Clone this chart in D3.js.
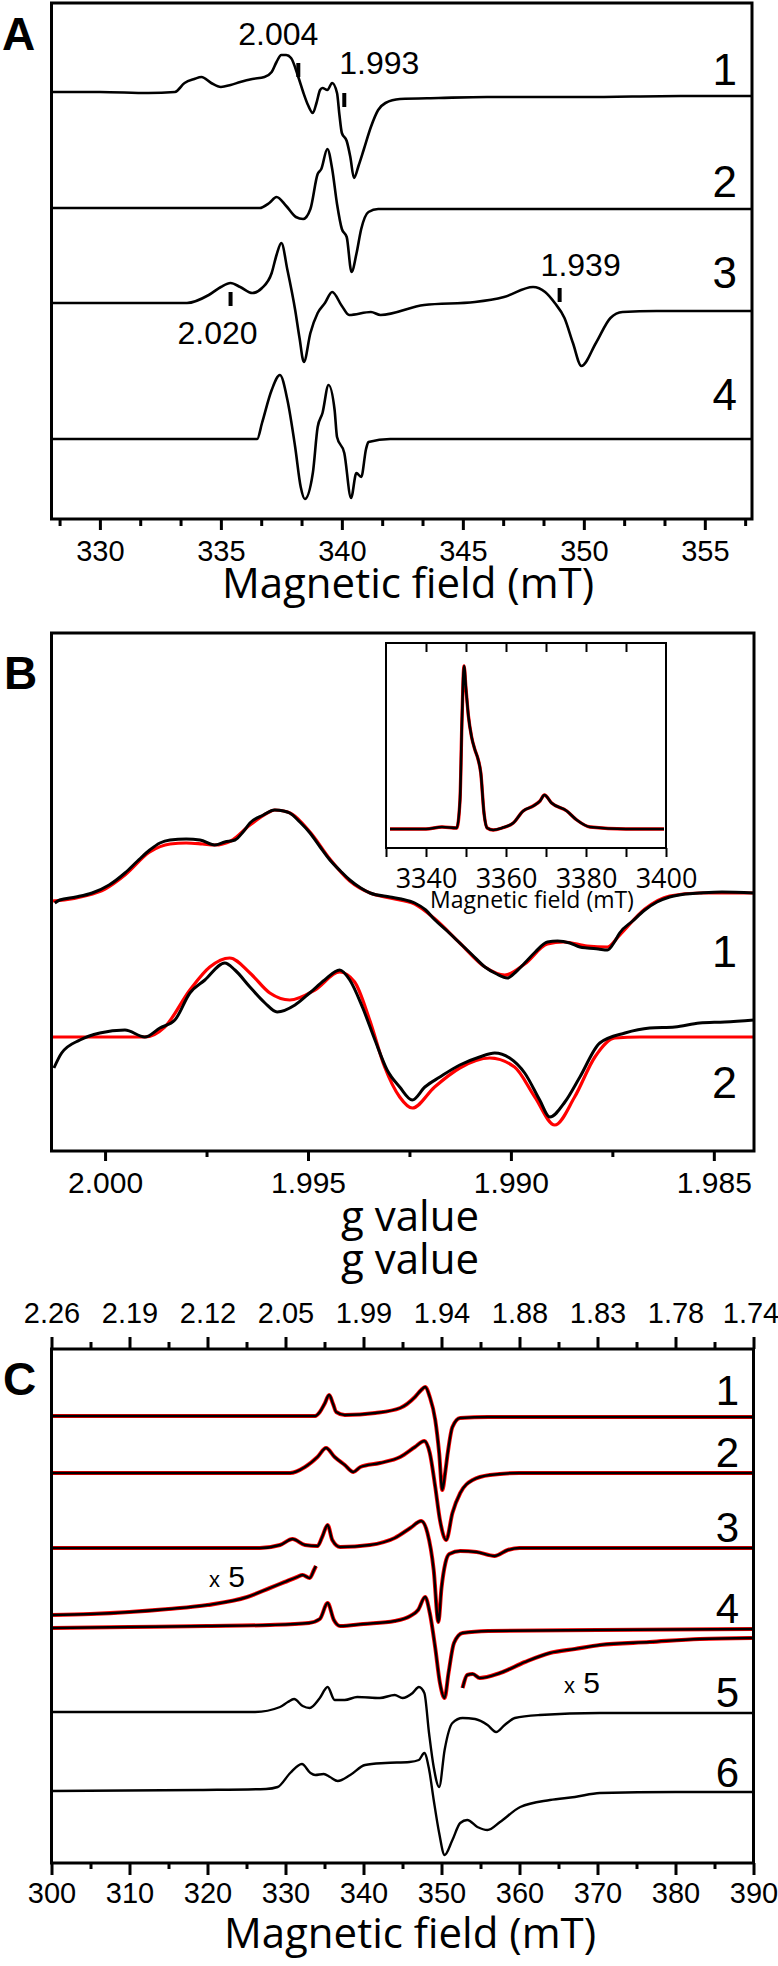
<!DOCTYPE html>
<html><head><meta charset="utf-8">
<script src="https://cdn.jsdelivr.net/npm/d3@7"></script>
<style>body{margin:0;background:#fff} svg{display:block}</style>
</head><body>
<svg id="fig" width="778" height="1966"></svg>
<script>
// ---------------- DATA ----------------
// Panel A : field (mT) vs derivative intensity (arbitrary units, relative to each trace baseline)
const A_ticks = [330, 335, 340, 345, 350, 355];
const A_labels = ["1", "2", "3", "4"];
const A_offsets = [424, 310, 216, 80];
const A1 = [[328.0,3],[330,3],[332,2],[333.1,3],[333.5,12],[333.9,16],[334.2,18],[334.6,12],[335.0,8],[335.4,10],[335.8,13],[336.3,16],[336.8,18],[337.1,23],[337.3,33],[337.5,40],[337.7,40],[337.9,37],[338.2,18],[338.4,3],[338.6,-10],[338.8,-18],[338.95,-8],[339.1,5],[339.2,7],[339.4,5],[339.6,12],[339.8,2],[339.9,-20],[340.0,-38],[340.2,-46],[340.35,-62],[340.5,-83],[340.7,-70],[340.9,-55],[341.2,-32],[341.5,-15],[341.8,-8],[342.4,-4],[344,-3],[346,-2],[350,-2],[354,-1],[356.95,-1]];
const A2 = [[328.0,1],[332,1],[336.6,1],[337.0,6],[337.3,12],[337.7,3],[338.1,-8],[338.4,-10],[338.7,0],[339.0,35],[339.15,40],[339.4,60],[339.6,40],[339.8,5],[340.0,-20],[340.2,-28],[340.4,-63],[340.6,-45],[340.8,-20],[341.1,-3],[341.5,0],[345,0],[350,0],[356.95,0]];
const A3 = [[328.0,0],[333.6,0],[334.5,8],[335.0,16],[335.4,20],[335.8,16],[336.3,10],[336.7,15],[337.1,30],[337.3,48],[337.5,60],[337.75,33],[338.07,-7],[338.25,-35],[338.43,-59],[338.7,-30],[339.0,-10],[339.3,0],[339.6,11],[340.0,-3],[340.3,-12],[341.2,-9],[341.6,-12],[343.4,-2],[345.5,1],[346.7,6],[347.9,16],[348.4,11],[348.8,0],[349.2,-15],[349.55,-40],[349.9,-63],[350.5,-40],[351.1,-15],[351.6,-9],[353,-8],[356.95,-8]];
const A4 = [[328.0,0],[336.5,0],[336.7,16],[337.1,49],[337.44,64],[337.75,39],[338.07,-8],[338.3,-48],[338.47,-60],[338.8,-34],[339.0,12],[339.2,26],[339.45,54],[339.7,29],[339.8,2],[340.1,-14],[340.38,-59],[340.6,-34],[340.8,-38],[341.0,-10],[341.1,-3],[342,0],[356.95,0]];
const A_marks = [
  {text: "2.004", field: 338.2, trace: 0, level: 25},
  {text: "1.993", field: 340.1, trace: 0, level: -5},
  {text: "1.939", field: 349.0, trace: 2, level: 8},
  {text: "2.020", field: 335.4, trace: 2, level: 4}
];

// Panel B : g value vs intensity
const B_ticks = [2.000, 1.995, 1.990, 1.985];
const B_minor = [1.9975, 1.9925, 1.9875];
const B_labels = ["1", "2"];
const B_offsets = [254, 114];
const B1 = [[2.00124,-6],[2.00112,-3],[2.00072,0],[2.00032,4],[1.99990,12],[1.99951,24],[1.99920,36],[1.99890,47],[1.99865,54],[1.99840,57],[1.99800,58],[1.99766,57],[1.99730,52],[1.99705,55],[1.99680,57],[1.99660,65],[1.99643,74],[1.99610,82],[1.99582,87],[1.99560,86],[1.99545,84],[1.99520,75],[1.99495,64],[1.99470,50],[1.99446,37],[1.99420,26],[1.99397,17],[1.99370,9],[1.99347,4],[1.99298,0],[1.99270,-2],[1.99237,-6],[1.99210,-13],[1.99187,-23],[1.99157,-34],[1.99126,-46],[1.99095,-58],[1.99064,-70],[1.99035,-77],[1.99009,-81],[1.98988,-75],[1.98966,-66],[1.98940,-55],[1.98910,-45],[1.98885,-44],[1.98855,-46],[1.98830,-50],[1.98812,-51],[1.98785,-52],[1.98762,-53],[1.98745,-45],[1.98732,-36],[1.98700,-24],[1.98670,-13],[1.98640,-5],[1.98609,0],[1.98570,3],[1.98535,4],[1.98480,5],[1.98401,4]];
const B1_fit = [[2.00132,-4],[2.00100,-3],[2.00050,1],[2.00000,8],[1.99951,22],[1.99890,45],[1.99840,53],[1.99800,54],[1.99760,53],[1.99730,52],[1.99690,56],[1.99643,72],[1.99600,84],[1.99582,87],[1.99550,85],[1.99495,65],[1.99446,38],[1.99397,16],[1.99347,4],[1.99298,-1],[1.99237,-7],[1.99187,-22],[1.99126,-46],[1.99064,-70],[1.99015,-78],[1.98966,-67],[1.98910,-47],[1.98870,-45],[1.98812,-49],[1.98762,-50],[1.98732,-38],[1.98670,-12],[1.98609,1],[1.98535,4],[1.98401,4]];
const B2 = [[2.00126,-31],[2.00107,-16],[2.00062,-3],[2.00013,4],[1.99951,7],[1.99902,0],[1.99865,9],[1.99828,17],[1.99791,44],[1.99754,57],[1.99705,74],[1.99680,67],[1.99643,50],[1.99606,34],[1.99576,25],[1.99532,32],[1.99496,44],[1.99459,57],[1.99422,67],[1.99397,57],[1.99366,30],[1.99335,-3],[1.99305,-33],[1.99274,-50],[1.99243,-63],[1.99212,-50],[1.99175,-40],[1.99126,-28],[1.99077,-20],[1.99040,-16],[1.99003,-21],[1.98966,-36],[1.98929,-63],[1.98904,-80],[1.98867,-65],[1.98830,-40],[1.98781,-6],[1.98719,4],[1.98658,9],[1.98596,10],[1.98535,14],[1.98473,15],[1.98401,17]];
const B2_fit = [[2.00133,0],[1.99902,0],[1.99853,10],[1.99791,47],[1.99742,70],[1.99693,79],[1.99643,64],[1.99594,44],[1.99545,37],[1.99483,47],[1.99422,65],[1.99385,55],[1.99348,17],[1.99311,-30],[1.99274,-60],[1.99243,-71],[1.99188,-50],[1.99126,-31],[1.99052,-21],[1.98991,-30],[1.98941,-60],[1.98892,-88],[1.98843,-60],[1.98793,-20],[1.98744,-1],[1.98682,0],[1.98401,0]];

// Panel B inset : field as printed vs absorption
const Bi_ticks = [3340, 3360, 3380, 3400];
const Bi_offset = 19;
const Bi = [[3331,0],[3340,0],[3344,2],[3347.7,1],[3348.5,29],[3349.0,110],[3349.5,163],[3350.0,140],[3350.6,113],[3351.4,92],[3352.25,79],[3353.0,70],[3353.7,56],[3354.5,16],[3355.3,1],[3356.8,-1],[3359,1],[3361.8,6],[3364.3,18],[3366.8,23],[3368.5,28],[3369.6,34],[3371.4,26],[3375.2,18],[3377.7,9],[3381,2],[3390,0],[3399.5,0]];

// Panel C : field (mT) vs intensity
const C_ticks = [300, 310, 320, 330, 340, 350, 360, 370, 380, 390];
const C_gLabels = ["2.26", "2.19", "2.12", "2.05", "1.99", "1.94", "1.88", "1.83", "1.78", "1.74"];
const C_labels = ["1", "2", "3", "4", "5", "6"];
const C_offsets = [447, 390, 315, 235, 151, 72];
const C1 = [[300,0],[333.8,0],[334.4,4],[335.0,12],[335.6,21],[336.1,12],[336.5,4],[337.6,1],[341.5,3],[344.7,8],[346.6,19],[347.4,26],[347.9,29],[348.5,19],[349.2,-4],[349.7,-37],[350.1,-74],[350.5,-55],[350.8,-37],[351.4,-11],[352.4,-2],[356,-1],[390,-1]];
const C2 = [[300,0],[330.6,0],[332.5,6],[334.1,16],[335.2,25],[336.3,16],[337.6,8],[338.7,1],[339.6,6],[342.1,10],[344.7,16],[346.6,26],[347.8,32],[348.5,20],[349.2,-14],[349.8,-47],[350.6,-67],[351.4,-40],[352.4,-20],[354.0,-7],[356.2,-2],[360,0],[390,0]];
const C3 = [[300,0],[326.7,0],[329.3,3],[330.9,9],[332.5,3],[334.1,2],[334.7,11],[335.4,23],[336.0,8],[337.0,1],[340.8,3],[344.0,10],[346.0,20],[347.4,27],[348.2,15],[349.0,-22],[349.6,-74],[350.0,-40],[350.5,-15],[351.0,-6],[352.4,-3],[354.5,-4],[356.8,-8],[358.5,-2],[360,0],[390,0]];
const C4 = [[300,0],[310,1],[320,2],[328,3],[333,5],[334.4,9],[335.4,25],[336.2,8],[337,2],[340,4],[344,7],[346,12],[347.0,18],[347.9,31],[348.5,15],[349.2,-20],[349.8,-55],[350.4,-70],[350.9,-45],[351.6,-15],[352.7,-5],[356,-3],[370,-2],[390,-1]];
const C4_x5a = [[300,13],[305,14],[310,16],[315,19],[320,23],[325.1,31],[328,40],[329.9,46],[331.5,51],[332.2,53],[333.1,50],[333.65,58],[333.9,62]];
const C4_x5b = [[352.7,-60],[353.3,-47],[354.0,-46],[354.9,-50],[357.5,-45],[360.7,-34],[363.9,-25],[367.1,-21],[370.3,-17],[376.7,-14],[383.1,-11],[389.8,-10]];
const C5 = [[300,0],[326.1,0],[329.3,5],[330.3,10],[331.1,13],[332.2,6],[333.1,4],[334.4,14],[335.4,25],[336.3,12],[337.6,12],[339.2,15],[342.1,14],[344.0,17],[345.0,14],[346.3,19],[347.1,25],[347.8,19],[348.4,-21],[349.0,-55],[349.7,-75],[350.4,-38],[351.4,-11],[352.7,-6],[354.3,-7],[355.9,-13],[357.0,-20],[358.1,-13],[359.4,-6],[362.6,-3],[370.3,-1],[390,-1]];
const C6 = [[300,0],[319,1],[327.5,2],[329.0,4],[330.6,18],[332.1,27],[333.2,18],[333.8,16],[334.9,17],[335.7,14],[336.7,10],[338.3,16],[340.2,26],[342.8,28],[345.9,29],[347.1,31],[347.8,38],[348.4,22],[349.0,-9],[349.7,-42],[350.4,-64],[351.4,-49],[352.4,-32],[353.3,-29],[354.6,-36],[355.9,-39],[357.5,-31],[360.1,-16],[363.9,-9],[367.1,-6],[370.3,-2],[380,-1],[390,-1]];

// ---------------- DRAWING ----------------
const svg = d3.select("#fig");
const NUM = "'Liberation Sans', Arial, Helvetica, sans-serif";
const TITLE = "'Open Sans', 'Noto Sans', sans-serif";

function frame(x0, y0, x1, y1, sw) {
  svg.append("rect").attr("x", x0).attr("y", y0).attr("width", x1 - x0).attr("height", y1 - y0)
    .attr("fill", "none").attr("stroke", "#000").attr("stroke-width", sw);
}
function styleAxis(g, labelY, fs, family) {
  g.select(".domain").remove();
  g.selectAll(".tick line").attr("stroke", "#000").attr("stroke-width", 3);
  g.selectAll(".tick text").attr("y", labelY).attr("dy", 0).attr("fill", "#000")
    .style("font-family", family || NUM).style("font-size", fs + "px");
}
function trace(data, x, y, off, color, sw) {
  const line = d3.line().x(d => x(d[0])).y(d => y(off + d[1])).curve(d3.curveMonotoneX);
  svg.append("path").datum(data).attr("d", line).attr("fill", "none")
    .attr("stroke", color).attr("stroke-width", sw).attr("stroke-linejoin", "round");
}
function text(t, x, y, fs, family, anchor, weight) {
  return svg.append("text").attr("x", x).attr("y", y).attr("text-anchor", anchor || "middle")
    .style("font-family", family).style("font-size", fs + "px").style("font-weight", weight || "normal")
    .attr("fill", "#000").text(t);
}

// ===== Panel A =====
const xA = d3.scaleLinear().domain([328.0, 356.95]).range([51.5, 752]);
const yA = d3.scaleLinear().domain([0, 516]).range([519, 3]);
const A_minor = d3.range(328 + 1/3, 357, 5/3).filter(v => !A_ticks.some(t => Math.abs(t - v) < 0.01));
svg.append("g").attr("transform", "translate(0,519)")
  .call(d3.axisBottom(xA).tickValues(A_minor).tickSize(7).tickFormat(""))
  .call(g => styleAxis(g, 0, 10));
svg.append("g").attr("transform", "translate(0,519)")
  .call(d3.axisBottom(xA).tickValues(A_ticks).tickSize(11).tickFormat(d3.format("d")))
  .call(g => styleAxis(g, 42, 29));
[A1, A2, A3, A4].forEach((d, i) => trace(d, xA, yA, A_offsets[i], "#000", 2.6));
frame(51.5, 3, 752, 519, 3);
const A_labY = [85, 197, 288, 410];
A_labels.forEach((t, i) => text(t, 737, A_labY[i], 44, NUM, "end"));
A_marks.forEach(m => {
  const mx = xA(m.field), my = yA(A_offsets[m.trace] + m.level);
  svg.append("line").attr("x1", mx).attr("x2", mx).attr("y1", my - 7).attr("y2", my + 7)
    .attr("stroke", "#000").attr("stroke-width", 4);
});
text(A_marks[0].text, xA(338.2) - 20, 45, 32, NUM, "middle");
text(A_marks[1].text, xA(340.1) - 5, 74, 32, NUM, "start");
text(A_marks[2].text, xA(349.0) + 21, 276, 32, NUM, "middle");
text(A_marks[3].text, xA(335.4) - 13, 344, 32, NUM, "middle");
text("Magnetic field (mT)", 408, 598, 42, TITLE, "middle");
text("A", 2, 50, 46, NUM, "start", "bold");

// ===== Panel B =====
const xB = d3.scaleLinear().domain([2.00132, 1.98401]).range([51.5, 754]);
const yB = d3.scaleLinear().domain([0, 518]).range([1151, 633]);
svg.append("g").attr("transform", "translate(0,1151)")
  .call(d3.axisBottom(xB).tickValues(B_minor).tickSize(6).tickFormat(""))
  .call(g => styleAxis(g, 0, 10));
svg.append("g").attr("transform", "translate(0,1151)")
  .call(d3.axisBottom(xB).tickValues(B_ticks).tickSize(10).tickFormat(d3.format(".3f")))
  .call(g => styleAxis(g, 42, 30));
trace(B1_fit, xB, yB, B_offsets[0], "#ff0000", 3.2);
trace(B1, xB, yB, B_offsets[0], "#000", 3);
trace(B2_fit, xB, yB, B_offsets[1], "#ff0000", 3.2);
trace(B2, xB, yB, B_offsets[1], "#000", 3);
frame(51.5, 633, 754, 1151, 3);
const B_labY = [967, 1098];
B_labels.forEach((t, i) => text(t, 737, B_labY[i], 45, NUM, "end"));
text("g value", 410, 1231, 42, TITLE, "middle");
text("g value", 410, 1274, 42, TITLE, "middle");
text("B", 4, 689, 46, NUM, "start", "bold");

// inset
const xBi = d3.scaleLinear().domain([3330, 3400]).range([386, 666]);
const yBi = d3.scaleLinear().domain([0, 205]).range([848, 643]);
svg.append("rect").attr("x", 386).attr("y", 643).attr("width", 280).attr("height", 205).attr("fill", "#fff");
svg.append("g").attr("transform", "translate(0,643)")
  .call(d3.axisBottom(xBi).tickValues(d3.range(3340, 3400, 10)).tickSize(9).tickFormat(""))
  .call(g => { g.select(".domain").remove(); g.selectAll(".tick line").attr("stroke", "#000").attr("stroke-width", 2); });
svg.append("g").attr("transform", "translate(0,848)")
  .call(d3.axisBottom(xBi).tickValues(d3.range(3330, 3401, 10)).tickSize(9).tickFormat(""))
  .call(g => { g.select(".domain").remove(); g.selectAll(".tick line").attr("stroke", "#000").attr("stroke-width", 2); });
svg.append("g").attr("transform", "translate(0,848)")
  .call(d3.axisBottom(xBi).tickValues(Bi_ticks).tickSize(0).tickFormat(d3.format("d")))
  .call(g => styleAxis(g, 40, 27, TITLE));
trace(Bi, xBi, yBi, Bi_offset, "#ff0000", 3.4);
trace(Bi, xBi, yBi, Bi_offset, "#000", 2.6);
frame(386, 643, 666, 848, 2);
text("Magnetic field (mT)", 532, 908, 23, TITLE, "middle");

// ===== Panel C =====
const xC = d3.scaleLinear().domain([300, 390]).range([51.5, 753.5]);
const yC = d3.scaleLinear().domain([0, 514]).range([1863, 1349]);
const C_minor = C_ticks.slice(0, -1).map(v => v + 5);
svg.append("g").attr("transform", "translate(0,1863)")
  .call(d3.axisBottom(xC).tickValues(C_minor).tickSize(6).tickFormat(""))
  .call(g => styleAxis(g, 0, 10));
svg.append("g").attr("transform", "translate(0,1863)")
  .call(d3.axisBottom(xC).tickValues(C_ticks).tickSize(12).tickFormat(d3.format("d")))
  .call(g => styleAxis(g, 40, 29));
svg.append("g").attr("transform", "translate(0,1349)")
  .call(d3.axisTop(xC).tickValues(C_minor).tickSize(7).tickFormat(""))
  .call(g => styleAxis(g, 0, 10));
svg.append("g").attr("transform", "translate(0,1349)")
  .call(d3.axisTop(xC).tickValues(C_ticks).tickSize(12).tickFormat((d, i) => C_gLabels[i]))
  .call(g => styleAxis(g, -26, 29))
  .call(g => g.selectAll(".tick text").filter((d, i) => i === C_ticks.length - 1).attr("dx", -3));
const Cser = [C1, C2, C3, C4, C5, C6];
Cser.forEach((d, i) => { if (i < 4) trace(d, xC, yC, C_offsets[i], "#ff0000", 4); });
trace(C4_x5a, xC, yC, C_offsets[3], "#ff0000", 4.2);
trace(C4_x5b, xC, yC, C_offsets[3], "#ff0000", 4.2);
Cser.forEach((d, i) => trace(d, xC, yC, C_offsets[i], "#000", 2.4));
trace(C4_x5a, xC, yC, C_offsets[3], "#000", 2.4);
trace(C4_x5b, xC, yC, C_offsets[3], "#000", 2.4);
frame(51.5, 1349, 753.5, 1863, 3);
const C_labY = [1405, 1467, 1542, 1623, 1707, 1787];
C_labels.forEach((t, i) => text(t, 739, C_labY[i], 42, NUM, "end"));
function x5(x, y) {
  const t = svg.append("text").attr("x", x).attr("y", y).style("font-family", NUM).attr("fill", "#000");
  t.append("tspan").style("font-size", "22px").text("x");
  t.append("tspan").style("font-size", "30px").text(" 5");
}
x5(209, 1587);
x5(564, 1693);
text("Magnetic field (mT)", 410, 1948, 42, TITLE, "middle");
text("C", 3, 1395, 46, NUM, "start", "bold");
</script>
</body></html>
